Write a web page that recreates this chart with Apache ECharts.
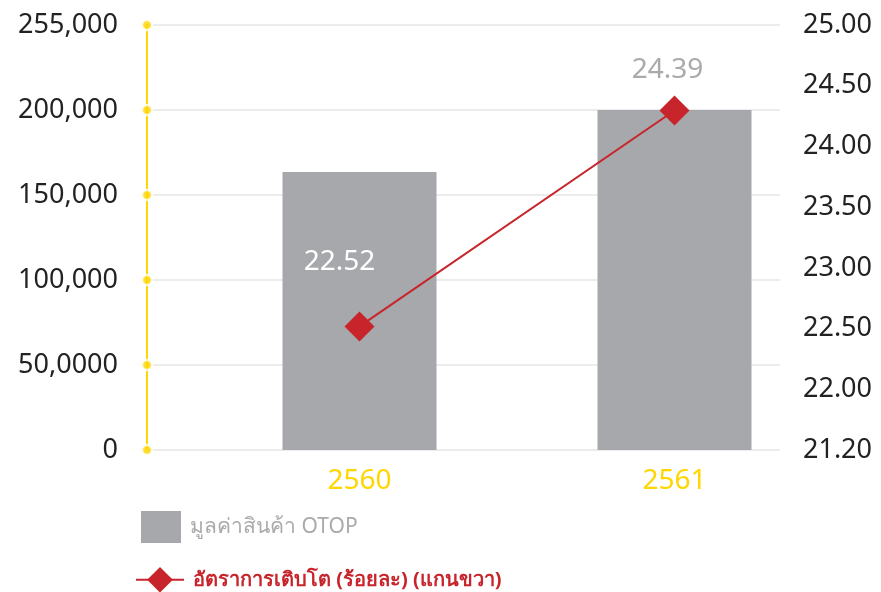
<!DOCTYPE html>
<html>
<head>
<meta charset="utf-8">
<script src="https://cdn.jsdelivr.net/npm/echarts@6/dist/echarts.min.js"></script>
<style>
html,body{margin:0;padding:0;background:#fff;}
#c{width:881px;height:592px;}
</style>
</head>
<body>
<div id="c"></div>
<script>
var years = ['2560', '2561'];
var otopValue = [163500, 200000];
var growthRate = [22.52, 24.39];
var leftTickValues = [0, 50000, 100000, 150000, 200000, 250000];
var leftTickLabels = ['0', '50,0000', '100,000', '150,000', '200,000', '255,000'];
var rightTickLabels = ['21.20', '22.00', '22.50', '23.00', '23.50', '24.00', '24.50', '25.00'];
var barName = 'มูลค่าสินค้า OTOP';
var lineName = 'อัตราการเติบโต (ร้อยละ) (แกนขวา)';

var FONT = '"Noto Sans", "Open Sans", sans-serif';
var YELLOW = '#FFD600';
var RED = '#C8242B';
var GRAY = '#A7A8AB';

var chart = echarts.init(document.getElementById('c'));
chart.setOption({
  animation: false,
  textStyle: { fontFamily: FONT },
  legend: [
    {
      orient: 'vertical', left: 136, top: 506,
      itemWidth: 40, itemHeight: 32,
      textStyle: { fontSize: 21, fontFamily: FONT, color: '#AAAAAA', padding: [0, 0, 0, 4] },
      data: [{ name: barName, icon: 'rect' }]
    },
    {
      orient: 'vertical', left: 130, top: 562,
      itemWidth: 48, itemHeight: 32,
      textStyle: { fontSize: 20, fontFamily: FONT, color: RED, fontWeight: 'bold', padding: [0, 0, 0, 4] },
      data: [{ name: lineName }]
    }
  ],
  grid: [
    { left: 147, right: 101, top: 25, bottom: 142 },
    { left: 202, right: 49, top: 25, bottom: 142 }
  ],
  xAxis: [
    { type: 'value', gridIndex: 0, min: 0, max: 1, show: false },
    {
      type: 'category', gridIndex: 1, data: years,
      axisLine: { show: false }, axisTick: { show: false },
      axisLabel: { color: YELLOW, fontSize: 28, margin: 17, fontFamily: FONT }
    }
  ],
  yAxis: [
    {
      type: 'value', gridIndex: 0, position: 'left', min: 0, max: 250000, interval: 50000,
      axisLine: { show: true, lineStyle: { color: YELLOW, width: 2 } },
      axisTick: { show: false },
      splitLine: { show: true, lineStyle: { color: '#E6E6E6', width: 1.5 } },
      axisLabel: {
        color: '#222', fontSize: 27, margin: 29, fontFamily: FONT,
        formatter: function (v) { return leftTickLabels[leftTickValues.indexOf(v)]; }
      }
    },
    {
      type: 'value', gridIndex: 0, position: 'right', min: 21.5, max: 25, interval: 0.5,
      axisLine: { show: false }, axisTick: { show: false }, splitLine: { show: false },
      axisLabel: {
        color: '#222', fontSize: 27, margin: 23, fontFamily: FONT,
        formatter: function (v) { return rightTickLabels[Math.round((v - 21.5) / 0.5)]; }
      }
    },
    { type: 'value', gridIndex: 1, min: 0, max: 250000, show: false },
    { type: 'value', gridIndex: 1, min: 21.45, max: 25.13, show: false }
  ],
  series: [
    {
      name: 'ticks', type: 'scatter', xAxisIndex: 0, yAxisIndex: 0,
      data: leftTickValues.map(function (v) { return [0, v]; }),
      symbolSize: 10, clip: false, z: 10, silent: true,
      itemStyle: { color: YELLOW, borderColor: '#fff', borderWidth: 2.5 }
    },
    {
      name: barName, type: 'bar', xAxisIndex: 1, yAxisIndex: 2,
      data: otopValue, barWidth: 154,
      itemStyle: { color: GRAY }
    },
    {
      name: lineName, type: 'line', xAxisIndex: 1, yAxisIndex: 3,
      data: [
        { value: growthRate[0], label: { color: '#FFFFFF', offset: [-20, -30] } },
        { value: growthRate[1], label: { color: '#AAAAAA', offset: [-7, -6] } }
      ],
      symbol: 'diamond', symbolSize: 30, z: 5,
      lineStyle: { color: RED, width: 2 },
      itemStyle: { color: RED },
      label: {
        show: true, position: 'top', distance: 5, fontSize: 28, fontFamily: FONT,
        formatter: function (p) { return p.value.toFixed(2); }
      }
    }
  ]
});
</script>
</body>
</html>
